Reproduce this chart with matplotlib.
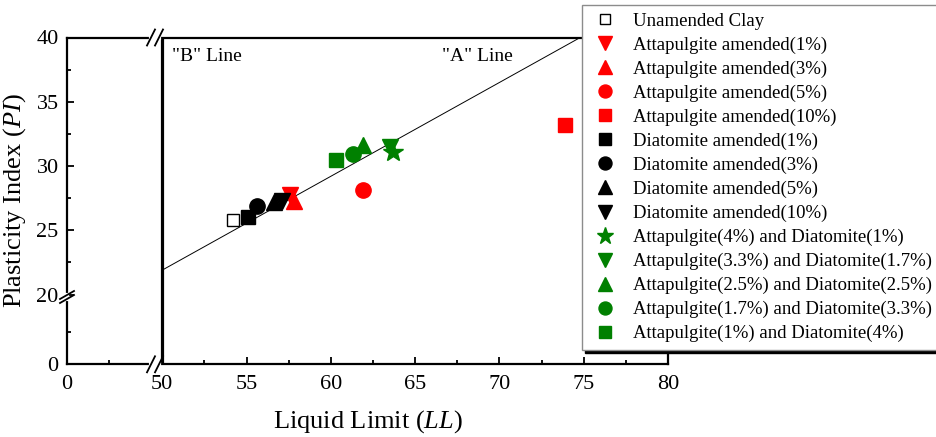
# Plasticity chart (Casagrande) with broken axes, recreated with matplotlib

import numpy as np
import matplotlib
matplotlib.use('Agg')
import matplotlib.pyplot as plt
from matplotlib.lines import Line2D

plt.rcParams['font.family'] = ['Liberation Serif', 'DejaVu Serif']
plt.rcParams['mathtext.fontset'] = 'custom'
plt.rcParams['mathtext.it'] = 'Liberation Serif:italic'
plt.rcParams['mathtext.rm'] = 'Liberation Serif'

# data: liquid limit (LL) and plasticity index (PI)
labels = ['Unamended Clay',
          'Attapulgite amended(1%)',
          'Attapulgite amended(3%)',
          'Attapulgite amended(5%)',
          'Attapulgite amended(10%)',
          'Diatomite amended(1%)',
          'Diatomite amended(3%)',
          'Diatomite amended(5%)',
          'Diatomite amended(10%)',
          'Attapulgite(4%) and Diatomite(1%)',
          'Attapulgite(3.3%) and Diatomite(1.7%)',
          'Attapulgite(2.5%) and Diatomite(2.5%)',
          'Attapulgite(1.7%) and Diatomite(3.3%)',
          'Attapulgite(1%) and Diatomite(4%)']
ll_values = [54.2, 57.6, 57.8, 61.9, 73.9, 55.1, 55.6, 56.6, 57.1,
             63.7, 63.5, 61.9, 61.3, 60.3]
pi_values = [25.8, 27.75, 27.3, 28.1, 33.2, 26.0, 26.9, 27.2, 27.3,
             31.1, 31.5, 31.65, 30.9, 30.5]
markers = ['s', 'v', '^', 'o', 's', 's', 'o', '^', 'v',
           '*', 'v', '^', 'o', 's']
colors = ['white', 'red', 'red', 'red', 'red', 'black', 'black', 'black', 'black',
          'green', 'green', 'green', 'green', 'green']
sizes = [9, 12, 12, 11, 9.5, 9.5, 11, 12, 12, 15, 12, 12, 11, 9.5]

x_major = [0, 50, 55, 60, 65, 70, 75, 80]
x_minor = [2.5, 52.5, 57.5, 62.5, 67.5, 72.5, 77.5]
y_major = [0, 20, 25, 30, 35, 40]
y_minor = [2.5, 22.5, 27.5, 32.5, 37.5]

# broken axis: keep 0..gap, then jump to 50 (x) / 20 (y)
XG = 5.65
YG = 5.43


def fx(x):
    x = np.asarray(x, float)
    return np.where(x < 50, np.minimum(x, XG), x - 50 + XG)


def fx_inv(u):
    u = np.asarray(u, float)
    return np.where(u <= XG, u, u + 50 - XG)


def fy(y):
    y = np.asarray(y, float)
    return np.where(y < 20, np.minimum(y, YG), y - 20 + YG)


def fy_inv(u):
    u = np.asarray(u, float)
    return np.where(u <= YG, u, u + 20 - YG)


W, H = 936, 437
fig = plt.figure(figsize=(W / 100, H / 100), dpi=100)
ax = fig.add_axes([67 / W, 1 - 364.3 / H, 601 / W, 326.8 / H])
ax.set_xscale('function', functions=(fx, fx_inv))
ax.set_yscale('function', functions=(fy, fy_inv))
ax.set_xlim(0, 80)
ax.set_ylim(0, 40)

ax.set_xticks(x_major)
ax.set_xticks(x_minor, minor=True)
ax.set_yticks(y_major)
ax.set_yticks(y_minor, minor=True)
ax.set_xticklabels([str(v) for v in x_major])
ax.set_yticklabels([str(v) for v in y_major])
ax.tick_params(which='both', direction='in', width=1.3, labelsize=16)
ax.tick_params(which='major', length=5)
ax.tick_params(which='minor', length=3)
ax.tick_params(axis='x', which='major', pad=8)
ax.tick_params(axis='y', which='major', pad=6)
for s in ax.spines.values():
    s.set_linewidth(1.6)

# "B" line (LL = 50) and "A" line (PI = 0.73 (LL - 20))
ax.axvline(50, color='black', lw=2.3, zorder=2)
a_ll = np.array([50, 80])
ax.plot(a_ll, 0.73 * (a_ll - 20), color='black', lw=0.7, zorder=2)
ax.text(50.55, 38.5, '"B" Line', fontsize=14, va='center', ha='left')
ax.text(66.6, 38.5, '"A" Line', fontsize=14, va='center', ha='left')

handles = []
for i in range(len(labels)):
    edge = 'black' if colors[i] == 'white' else colors[i]
    ax.plot(ll_values[i], pi_values[i], linestyle='none', marker=markers[i],
            markersize=sizes[i], markerfacecolor=colors[i], markeredgecolor=edge,
            markeredgewidth=1.0, zorder=3)
    handles.append(Line2D([], [], linestyle='none', marker=markers[i],
                          markersize=sizes[i] * 0.85, markerfacecolor=colors[i],
                          markeredgecolor=edge, markeredgewidth=1.0))

ax.set_xlabel('Liquid Limit ($\\it{LL}$)', fontsize=19, labelpad=10)
ax.set_ylabel('Plasticity Index ($\\it{PI}$)', fontsize=19, labelpad=6)

# break marks on the spines (pixel offsets turned into figure fractions)
pos = ax.get_position()


def break_mark(xf, yf, horiz):
    cx = pos.x0 + xf * pos.width
    cy = pos.y0 + yf * pos.height
    if horiz:
        gap, hx, hy = 8 / W, 4 / W, 8 / H
        fig.add_artist(Line2D([cx - gap / 2, cx + gap / 2], [cy, cy], color='white', lw=3, zorder=4))
        for off in (-gap / 2, gap / 2):
            fig.add_artist(Line2D([cx + off - hx, cx + off + hx], [cy - hy, cy + hy],
                                  color='black', lw=1.3, zorder=4))
    else:
        gap, hx, hy = 4 / H, 7 / W, 4 / H
        fig.add_artist(Line2D([cx, cx], [cy - gap / 2, cy + gap / 2], color='white', lw=3, zorder=4))
        for off in (-gap / 2, gap / 2):
            fig.add_artist(Line2D([cx - hx, cx + hx], [cy + off - hy, cy + off + hy],
                                  color='black', lw=1.3, zorder=4))


xb = (155 - 67) / 601
yb = (364.3 - 297) / 326.8
break_mark(xb, 0, True)
break_mark(xb, 1, True)
break_mark(0, yb, False)
break_mark(1, yb, False)

leg = fig.legend(handles, labels, loc='upper left',
                 bbox_to_anchor=(582 / W, 1 - 5 / H), fontsize=13.5,
                 frameon=True, fancybox=False, edgecolor='#8c8c8c',
                 framealpha=1, shadow={'color': 'black', 'alpha': 1},
                 labelspacing=0.36, handlelength=1.65, handletextpad=0.65,
                 borderpad=0.4, borderaxespad=0)
leg.get_frame().set_linewidth(1.0)
leg.set_zorder(10)

fig.savefig('out.png', dpi=100)
